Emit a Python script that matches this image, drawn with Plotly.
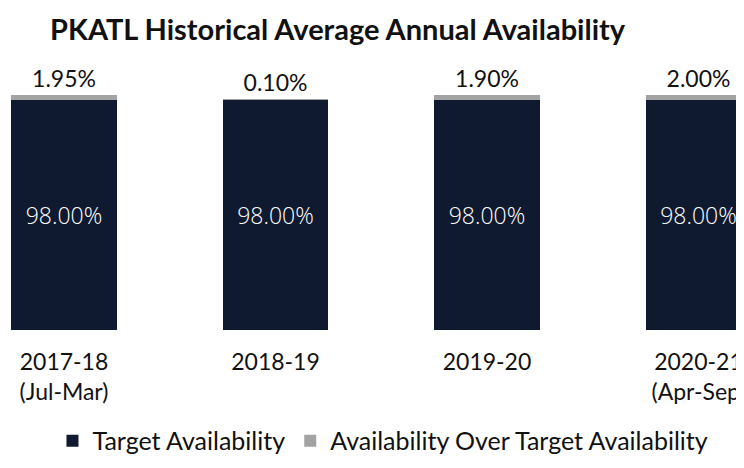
import plotly.graph_objects as go

categories = ["2017-18<br>(Jul-Mar)", "2018-19", "2019-20", "2020-21<br>(Apr-Sep)"]
target_availability = [98.00, 98.00, 98.00, 98.00]
over_target = [1.95, 0.10, 1.90, 2.00]

FONT = "Lato"
NAVY = "#0f1a30"
GRAY = "#a3a3a3"

fig = go.Figure()
fig.add_trace(go.Bar(
    x=list(range(len(categories))), y=target_availability, name="Target Availability",
    marker=dict(color=NAVY, line=dict(width=0)),
    texttemplate="%{y:.2f}%", textposition="inside", insidetextanchor="middle",
    textfont=dict(color="white", size=23, family="Open Sans", weight=300),
))
fig.add_trace(go.Bar(
    x=list(range(len(categories))), y=over_target, name="Availability Over Target Availability",
    marker=dict(color=GRAY, line=dict(width=0)),
    texttemplate="%{y:.2f}%", textposition="outside",
    textfont=dict(color="#111111", size=23, family=FONT),
    cliponaxis=False,
))

fig.update_layout(
    width=744, height=468,
    barmode="stack", bargap=0.5,
    paper_bgcolor="white", plot_bgcolor="white",
    margin=dict(l=0, r=0, t=52, b=146, autoexpand=False),
    title=dict(text="<b>PKATL Historical Average Annual Availability</b>",
               x=0.443, xanchor="center", y=0.953, yanchor="middle",
               font=dict(family=FONT, size=29, color="#111111")),
    font=dict(family=FONT, color="#111111"),
    xaxis=dict(tickmode="array", tickvals=list(range(len(categories))), ticktext=categories,
               range=[-0.2648, 3.2530], showgrid=False, showline=False, zeroline=False,
               ticks="", ticklabelstandoff=16,
               tickfont=dict(family=FONT, size=23, color="#111111")),
    yaxis=dict(range=[0, 115], visible=False),
    legend=dict(orientation="h", x=0.504, xanchor="center", y=-0.411, yanchor="middle",
                font=dict(family=FONT, size=25, color="#111111"), traceorder="normal"),
    showlegend=True,
)

fig.write_html("out.html")
